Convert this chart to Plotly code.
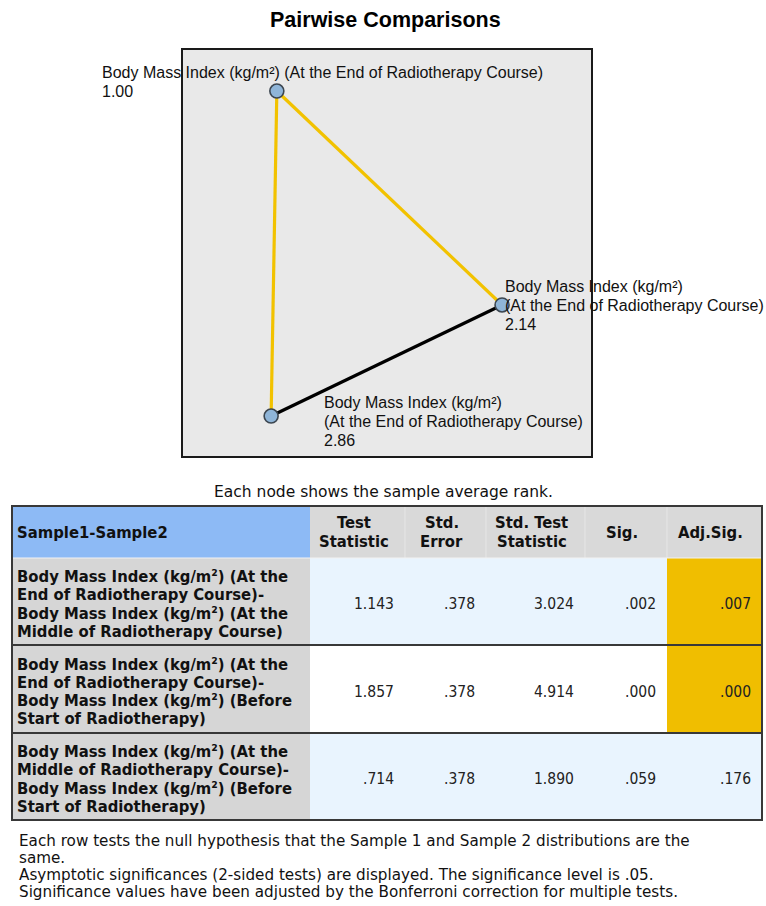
import plotly.graph_objects as go

W, H = 766, 906

# ---- Friedman pairwise comparisons: Body Mass Index at three time points ----
node_label_lines = [
    ["Body Mass Index (kg/m²) (At the End of Radiotherapy Course)"],
    ["Body Mass Index (kg/m²)", "(At the End of Radiotherapy Course)"],
    ["Body Mass Index (kg/m²)", "(At the End of Radiotherapy Course)"],
]
mean_ranks = [1.00, 2.14, 2.86]

# network layout of the three samples (unit square of the plot box)
node_x = [0.230, 0.782, 0.216]
node_y = [0.899, 0.372, 0.0985]

# each table row compares node pair (a, b)
pairs = [(0, 1), (0, 2), (1, 2)]
comparison_lines = [
    ["Body Mass Index (kg/m²) (At the", "End of Radiotherapy Course)-",
     "Body Mass Index (kg/m²) (At the", "Middle of Radiotherapy Course)"],
    ["Body Mass Index (kg/m²) (At the", "End of Radiotherapy Course)-",
     "Body Mass Index (kg/m²) (Before", "Start of Radiotherapy)"],
    ["Body Mass Index (kg/m²) (At the", "Middle of Radiotherapy Course)-",
     "Body Mass Index (kg/m²) (Before", "Start of Radiotherapy)"],
]
test_statistic = [1.143, 1.857, 0.714]
std_error = [0.378, 0.378, 0.378]
std_test_statistic = [3.024, 4.914, 1.890]
sig = [0.002, 0.000, 0.059]
adj_sig = [0.007, 0.000, 0.176]
alpha = 0.05

header_lines = [["Sample1-Sample2"], ["Test", "Statistic"], ["Std.", "Error"],
                ["Std. Test", "Statistic"], ["Sig."], ["Adj.Sig."]]

footnotes = [
    "Each row tests the null hypothesis that the Sample 1 and Sample 2 distributions are the",
    "same.",
    "Asymptotic significances (2-sided tests) are displayed. The significance level is .05.",
    "Significance values have been adjusted by the Bonferroni correction for multiple tests.",
]

# ---- styling ----
ARIAL = "Liberation Sans, Arial, sans-serif"
NARROW = "DejaVu Sans Condensed, Liberation Sans Narrow, Arial Narrow, sans-serif"
WIDE = "DejaVu Sans, Verdana, sans-serif"
YELLOW = "#f2c200"
GOLD = "#f0be00"
HEADER_BLUE = "#8dbaf5"
HEADER_GREY = "#d9d9d9"
LABEL_GREY = "#d6d6d6"
CELL_BLUE = "#e9f4fe"
BORDER = "#383838"


def px(x):
    return x / W


def py(y):
    return 1 - y / H


def spss(v):
    s = f"{v:.3f}"
    return s[1:] if s.startswith("0") else s


fig = go.Figure()

# ---- network of sample nodes ----
for (a, b), p in zip(pairs, adj_sig):
    fig.add_trace(go.Scatter(
        x=[node_x[a], node_x[b]], y=[node_y[a], node_y[b]], mode="lines",
        line=dict(color=YELLOW if p < alpha else "#000000", width=3.2),
        hoverinfo="skip", showlegend=False))

fig.add_trace(go.Scatter(
    x=node_x, y=node_y, mode="markers",
    marker=dict(size=14, color="#8fb5d8", line=dict(color="#3c4650", width=1.6)),
    hoverinfo="skip", showlegend=False))

# label offsets (pixels) of each node's text block: left shift, first line shift
label_offsets = [(-177, 19), (1, 18), (51, 14)]
PITCH = 19
for i, (dx, top) in enumerate(label_offsets):
    lines = node_label_lines[i] + [f"{mean_ranks[i]:.2f}"]
    for k, t in enumerate(lines):
        fig.add_annotation(
            x=node_x[i], y=node_y[i], xref="x", yref="y", text=t, showarrow=False,
            xanchor="left", yanchor="middle", xshift=dx, yshift=top - k * PITCH,
            font=dict(family=ARIAL, size=16, color="#111111"))

box_l, box_r, box_t, box_b = 183, 591, 50, 456
fig.update_xaxes(domain=[px(box_l), px(box_r)], range=[0, 1], showgrid=False,
                 zeroline=False, showticklabels=False, showline=True, mirror=True,
                 linecolor="#1a1a1a", linewidth=1.5, fixedrange=True)
fig.update_yaxes(domain=[py(box_b), py(box_t)], range=[0, 1], showgrid=False,
                 zeroline=False, showticklabels=False, showline=True, mirror=True,
                 linecolor="#1a1a1a", linewidth=1.5, fixedrange=True)

# ---- title and caption ----
fig.add_annotation(x=px(385), y=py(20), xref="paper", yref="paper", showarrow=False,
                   text="Pairwise Comparisons", xanchor="center", yanchor="middle",
                   font=dict(family=ARIAL, size=21.5, color="#000000", weight="bold"))
fig.add_annotation(x=px(384), y=py(492), xref="paper", yref="paper", showarrow=False,
                   text="Each node shows the sample average rank.", xanchor="center",
                   yanchor="middle", font=dict(family=WIDE, size=15.5, color="#111111"))

# ---- table ----
col_edges = [12, 310, 405, 486, 585, 667, 762]
row_edges = [506, 558, 645, 733, 820]
shapes = []


def rect(x0, y0, x1, y1, fill, line_color=None, lw=0):
    shapes.append(dict(type="rect", xref="paper", yref="paper",
                       x0=px(x0), x1=px(x1), y0=py(y1), y1=py(y0),
                       fillcolor=fill, line=dict(width=lw, color=line_color or fill),
                       layer="below"))


def hline(y, x0, x1, color, lw):
    shapes.append(dict(type="line", xref="paper", yref="paper", x0=px(x0), x1=px(x1),
                       y0=py(y), y1=py(y), line=dict(color=color, width=lw)))


def vline(x, y0, y1, color, lw):
    shapes.append(dict(type="line", xref="paper", yref="paper", x0=px(x), x1=px(x),
                       y0=py(y0), y1=py(y1), line=dict(color=color, width=lw)))


# header cells
for c in range(6):
    rect(col_edges[c], row_edges[0], col_edges[c + 1], row_edges[1],
         HEADER_BLUE if c == 0 else HEADER_GREY)
for c in range(2, 6):
    vline(col_edges[c], row_edges[0], row_edges[1], "#e6e6e6", 1)

# body cells
values = [test_statistic, std_error, std_test_statistic, sig, adj_sig]
for r in range(3):
    y0, y1 = row_edges[r + 1], row_edges[r + 2]
    rect(col_edges[0], y0, col_edges[1], y1, LABEL_GREY)
    band = "#ffffff" if r == 1 else CELL_BLUE
    for c in range(1, 6):
        fill = band
        if c == 5 and adj_sig[r] < alpha:
            fill = GOLD
        rect(col_edges[c], y0, col_edges[c + 1], y1, fill)

hline(row_edges[1], col_edges[0], col_edges[-1], "#f2f2f2", 1)
for y in row_edges[2:4]:
    hline(y, col_edges[0], col_edges[-1], BORDER, 2)
rect(col_edges[0], row_edges[0], col_edges[-1], row_edges[-1], "rgba(0,0,0,0)", BORDER, 2)
shapes[-1]["layer"] = "above"

fig.update_layout(shapes=shapes)

BOLD = dict(family=NARROW, size=16.5, color="#111111", weight="bold")
REG = dict(family=NARROW, size=15.5, color="#222222")

# header text
hy = (row_edges[0] + row_edges[1]) / 2
for c, lines in enumerate(header_lines):
    n = len(lines)
    for k, t in enumerate(lines):
        y = hy + (k - (n - 1) / 2) * 19
        if c == 0:
            fig.add_annotation(x=px(15), y=py(y), xref="paper", yref="paper", text=t,
                               showarrow=False, xanchor="left", yanchor="middle", font=BOLD)
        else:
            cx = (col_edges[c] + col_edges[c + 1]) / 2 - 4
            fig.add_annotation(x=px(cx), y=py(y), xref="paper", yref="paper", text=t,
                               showarrow=False, xanchor="center", yanchor="middle", font=BOLD)

# body text
for r in range(3):
    cy = (row_edges[r + 1] + row_edges[r + 2]) / 2 + 2.5
    lines = comparison_lines[r]
    for k, t in enumerate(lines):
        y = cy + (k - (len(lines) - 1) / 2) * 18.3
        fig.add_annotation(x=px(15), y=py(y), xref="paper", yref="paper", text=t,
                           showarrow=False, xanchor="left", yanchor="middle", font=BOLD)
    for c in range(1, 6):
        fig.add_annotation(x=px(col_edges[c + 1] - 9), y=py(cy), xref="paper", yref="paper",
                           text=spss(values[c - 1][r]), showarrow=False, xanchor="right",
                           yanchor="middle", font=REG)

# footnotes
for k, t in enumerate(footnotes):
    fig.add_annotation(x=px(17), y=py(841 + k * 17), xref="paper", yref="paper", text=t,
                       showarrow=False, xanchor="left", yanchor="middle",
                       font=dict(family=WIDE, size=15.2, color="#111111"))

fig.update_layout(width=W, height=H, margin=dict(l=0, r=0, t=0, b=0),
                  paper_bgcolor="#ffffff", plot_bgcolor="#e9e9e9", showlegend=False)

fig.write_html("out.html", config={"displayModeBar": False})
